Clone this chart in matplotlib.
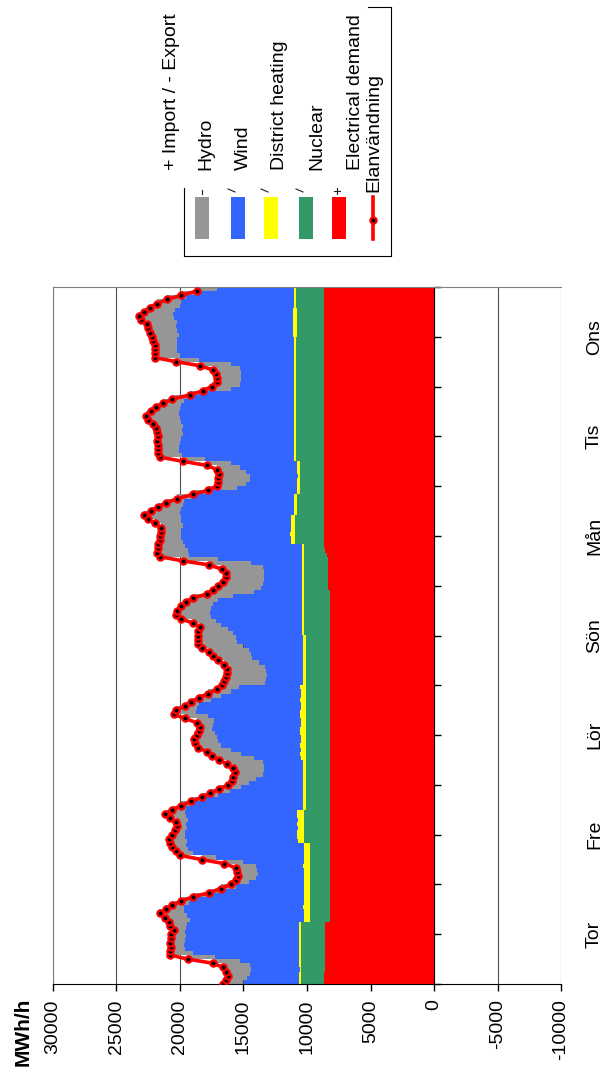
import numpy as np
import matplotlib
matplotlib.use("Agg")
from matplotlib import pyplot as plt
from matplotlib import transforms
from matplotlib.lines import Line2D
from matplotlib.patches import Rectangle

plt.rcParams['font.family'] = ['Liberation Sans', 'DejaVu Sans']
plt.rcParams['axes.unicode_minus'] = False

# one week, hourly values in MWh/h (Thursday 00:00 -> Wednesday 23:00)
days = ["Tor", "Fre", "Lör", "Sön", "Mån", "Tis", "Ons"]

nuclear = [
    8700, 8700, 8700, 8550, 8550, 8550, 8550, 8550, 8550, 8550, 8550, 8550, 8550, 8550, 8550, 8200, 8200, 8200, 8200, 8200, 8200, 8200, 8200, 8200,
    8200, 8200, 8200, 8200, 8200, 8200, 8200, 8200, 8200, 8200, 8200, 8200, 8200, 8200, 8200, 8200, 8200, 8200, 8150, 8150, 8150, 8150, 8150, 8150,
    8150, 8150, 8150, 8150, 8150, 8150, 8150, 8150, 8150, 8150, 8150, 8150, 8150, 8150, 8150, 8150, 8150, 8150, 8150, 8150, 8150, 8150, 8150, 8150,
    8150, 8150, 8150, 8150, 8150, 8150, 8150, 8150, 8150, 8150, 8150, 8150, 8200, 8200, 8200, 8200, 8200, 8200, 8200, 8200, 8200, 8200, 8200, 8330,
    8330, 8330, 8330, 8330, 8330, 8330, 8330, 8450, 8550, 8680, 8680, 8680, 8680, 8680, 8680, 8680, 8680, 8680, 8680, 8680, 8680, 8680, 8680, 8680,
    8680, 8680, 8680, 8680, 8680, 8680, 8680, 8680, 8680, 8680, 8680, 8680, 8680, 8680, 8680, 8680, 8680, 8680, 8680, 8680, 8680, 8680, 8680, 8680,
    8680, 8680, 8680, 8680, 8680, 8680, 8680, 8680, 8680, 8680, 8680, 8680, 8680, 8680, 8680, 8680, 8680, 8680, 8680, 8680, 8680, 8680, 8680, 8680,
]

chp = [
    1800, 1800, 1800, 1950, 1950, 1950, 1950, 1950, 1950, 1950, 1950, 1950, 1950, 1950, 1950, 1550, 1550, 1550, 1550, 1550, 1550, 1550, 1550, 1550,
    1550, 1550, 1550, 1550, 1550, 1550, 1550, 1550, 1550, 1550, 2050, 2050, 2050, 2050, 2050, 2050, 2050, 2050, 1950, 1950, 1950, 1950, 1950, 1950,
    1950, 1950, 1950, 1950, 1950, 1950, 1950, 1950, 1950, 1950, 1950, 1950, 1950, 1950, 1950, 1950, 1950, 1950, 1950, 1950, 1950, 1950, 1950, 1950,
    1950, 1950, 1950, 1950, 1950, 1950, 1950, 1950, 1950, 1950, 1950, 1950, 2050, 2050, 2050, 2050, 2050, 2050, 2050, 2050, 2050, 2050, 2050, 1920,
    1920, 1920, 1920, 1920, 1920, 1920, 1920, 1800, 1700, 1570, 2270, 2270, 2270, 2270, 2270, 2270, 2270, 2070, 2070, 2070, 2070, 2070, 1870, 1870,
    1870, 1870, 1870, 1870, 1870, 1870, 2170, 2170, 2170, 2170, 2170, 2170, 2170, 2170, 2170, 2170, 2170, 2170, 2170, 2170, 2170, 2170, 2170, 2170,
    2170, 2170, 2170, 2170, 2170, 2170, 2170, 2170, 2170, 2170, 2170, 2170, 2070, 2070, 2070, 2070, 2070, 2070, 2070, 2220, 2220, 2220, 2220, 2220,
]

wind = [
    100, 110, 100, 90, 100, 110, 120, 110, 100, 100, 110, 120, 130, 120, 150, 450, 480, 520, 550, 500, 480, 500, 520, 500,
    500, 520, 480, 500, 550, 520, 480, 500, 500, 520, 480, 500, 520, 450, 500, 480, 520, 500, 200, 220, 180, 200, 250, 200,
    200, 180, 200, 220, 200, 180, 350, 420, 380, 450, 400, 380, 420, 450, 400, 400, 420, 450, 380, 400, 420, 400, 380, 420,
    200, 220, 180, 200, 180, 200, 220, 200, 180, 200, 220, 200, 150, 160, 140, 150, 170, 150, 140, 150, 160, 150, 140, 150,
    150, 140, 160, 150, 150, 140, 160, 150, 150, 160, 300, 320, 350, 300, 280, 300, 320, 250, 260, 240, 250, 270, 200, 220,
    200, 220, 180, 200, 210, 200, 150, 160, 150, 140, 150, 160, 150, 170, 150, 140, 160, 150, 150, 160, 150, 140, 150, 160,
    150, 140, 160, 150, 150, 160, 150, 140, 160, 150, 150, 160, 350, 380, 350, 320, 350, 380, 340, 150, 160, 150, 140, 150,
]

hydro = [
    4400, 4100, 3900, 3800, 3900, 4700, 6600, 8400, 9000, 9100, 9000, 8900, 9000, 8900, 8800, 9050, 9250, 9450, 9350, 9050, 8450, 7550, 6350, 5350,
    4350, 3750, 3650, 3650, 3750, 4750, 6950, 8750, 9150, 9250, 8750, 8850, 8850, 8750, 8750, 8650, 8750, 8850, 9200, 8700, 7700, 6700, 5700, 4900,
    4300, 3700, 3200, 3100, 3100, 3200, 3700, 4700, 5500, 6200, 6500, 6600, 6700, 6900, 6900, 6800, 7300, 8200, 8200, 8000, 7000, 6300, 5500, 4800,
    3000, 2900, 2900, 2900, 3000, 3500, 4000, 4100, 4300, 4700, 5200, 5300, 5400, 5800, 6400, 6800, 7100, 7200, 7200, 7000, 6600, 5400, 3800, 3200,
    3100, 3000, 3000, 3000, 3100, 4000, 6600, 8900, 9000, 9200, 8550, 8650, 8650, 8650, 8550, 8650, 8650, 9000, 8900, 8800, 8700, 8000, 6750, 4750,
    4050, 3750, 3750, 4050, 4550, 5250, 7000, 8800, 9100, 9100, 9000, 8900, 8800, 8800, 8800, 8900, 9000, 9100, 9000, 8900, 8700, 8400, 7500, 5000,
    4300, 4200, 4200, 4200, 4300, 5000, 7500, 9000, 9200, 9200, 9200, 9200, 9000, 9100, 9200, 9200, 9400, 9400, 9300, 8950, 8850, 8450, 7450, 6050,
]

net_import = [
    1600, 1700, 1700, 2000, 2100, 2100, 2200, 1800, 1200, 1000, 1200, 1200, 1100, 1000, 1400, 1600, 1700, 1900, 1500, 1300, 1200, 1200, 1100, 1200,
    1400, 1600, 1500, 1600, 1600, 1500, 1100, 1000, 900, 1100, 1300, 1300, 1000, 900, 700, 900, 1300, 1600, 1100, 900, 1100, 1300, 1600, 1700,
    1600, 1900, 2300, 2300, 2400, 2800, 2900, 2500, 2100, 2100, 2000, 2000, 1700, 1300, 1200, 1400, 1800, 1800, 1600, 1100, 1600, 1700, 1800, 1800,
    3200, 3100, 3000, 2900, 2800, 2700, 2700, 3000, 3100, 3300, 3100, 3000, 2800, 2400, 1600, 1800, 2400, 2700, 2600, 2500, 2500, 3200, 3700, 3800,
    3500, 3200, 3000, 3000, 3200, 3300, 2800, 2300, 2400, 2100, 1900, 1700, 1700, 1600, 1700, 2100, 2600, 2800, 2400, 1900, 1400, 1200, 1500, 2300,
    2300, 2500, 2500, 2100, 1800, 1900, 1800, 1800, 1600, 1600, 1700, 1900, 1900, 2000, 2100, 2200, 2500, 2600, 2300, 2000, 1600, 1200, 700, 2200,
    2200, 1900, 1900, 2000, 2100, 2400, 1800, 2000, 1800, 1800, 1800, 1900, 2100, 2200, 2200, 2300, 2600, 2700, 2400, 2400, 1900, 1500, 1400, 1600,
]

demand = [
    16600, 16400, 16200, 16400, 16600, 17400, 19400, 20800, 20800, 20700, 20800, 20700, 20700, 20500, 20800, 20900, 21200, 21600, 21100, 20600, 19900, 19000, 17700, 16800,
    16000, 15600, 15400, 15500, 15600, 16500, 18300, 20000, 20300, 20600, 20800, 20900, 20600, 20400, 20200, 20300, 20800, 21200, 20600, 19900, 19100, 18300, 17600, 16900,
    16200, 15900, 15800, 15700, 15800, 16300, 16900, 17500, 17900, 18600, 18800, 18900, 18700, 18500, 18400, 18700, 19600, 20500, 20300, 19600, 19100, 18500, 17800, 17100,
    16700, 16500, 16400, 16300, 16300, 16500, 17000, 17400, 17700, 18300, 18600, 18600, 18600, 18600, 18400, 19000, 19900, 20300, 20200, 19900, 19500, 19000, 17900, 17400,
    17000, 16600, 16400, 16400, 16700, 17700, 19800, 21600, 21800, 21700, 21700, 21600, 21600, 21500, 21500, 22000, 22500, 22800, 22300, 21700, 21100, 20200, 19000, 17800,
    17100, 17000, 17000, 16900, 17100, 17900, 19800, 21600, 21700, 21700, 21700, 21800, 21700, 21800, 21900, 22100, 22500, 22700, 22300, 21900, 21300, 20600, 19200, 18200,
    17500, 17100, 17100, 17200, 17400, 18400, 20300, 22000, 22000, 22000, 22000, 22100, 22200, 22400, 22500, 22600, 23100, 23200, 22800, 22400, 21800, 21000, 19900, 18700,
]

legend_labels = ["+ Import / - Export", "Hydro", "Wind", "District heating",
                 "Nuclear", "Electrical demand", "Elanvändning"]
stack_colors = ["#FF0000", "#339966", "#FFFF00", "#3366FF", "#969696"]

W, H = 603, 1082
fig = plt.figure(figsize=(W / 100, H / 100), dpi=100)


def fx(x):
    return x / W


def fy(y):
    return 1 - y / H


# chart is drawn lying on its side: values run right-to-left, hours bottom-to-top
ax = fig.add_axes([fx(53), fy(984), fx(561) - fx(53), fy(287) - fy(984)])
ax.set_xlim(30000, -10000)
ax.set_ylim(0, 168)

hours = np.arange(len(demand))
left = np.zeros(len(hours))
for vals, col in zip([nuclear, chp, wind, hydro, net_import], stack_colors):
    vals = np.array(vals, dtype=float)
    ax.barh(hours, vals, left=left, height=1.0, align='edge', color=col,
            linewidth=0, antialiased=False, zorder=1)
    left += vals

ax.plot(demand, hours, color='#FF0000', lw=2.6, marker='o', ms=4.5, mfc='black',
        mec='#FF0000', mew=1.6, zorder=3)

ax.set_xticks(np.arange(-10000, 30001, 5000))
ax.grid(axis='x', color='#505050', lw=0.8)
ax.set_axisbelow(True)
ax.tick_params(axis='x', labelrotation=90, labelsize=14, length=5, width=1,
               direction='out', pad=6)

# time axis sits on the zero line, day names out at the far edge
ax.spines['right'].set_position(('data', 0))
ax.spines['right'].set_color('black')
ax.yaxis.tick_right()
ax.set_yticks(np.arange(0, 169, 12))
ax.tick_params(axis='y', labelright=False, length=5, width=1, direction='out')
for side in ['left', 'top']:
    ax.spines[side].set_color('#808080')
ax.spines['bottom'].set_color('black')

blend = transforms.blended_transform_factory(ax.transAxes, ax.transData)
for i, d in enumerate(days):
    ax.text(1.066, 12 + 24 * i, d, transform=blend, rotation=90,
            ha='center', va='center', fontsize=14)

fig.text(fx(23.5), fy(1066), "MWh/h", rotation=90, ha='center', va='bottom',
         fontsize=15, fontweight='bold')

# hand-built legend, turned the same way as the chart
text_x = [172, 206, 243, 280, 317, 355, 374]
text_y = [170, 170, 170, 170, 170, 170, 192]
for lab, x, y in zip(legend_labels, text_x, text_y):
    fig.text(fx(x), fy(y), lab, rotation=90, ha='center', va='bottom', fontsize=14)

box_x = [195, 231, 264, 299, 332]
for x, col in zip(box_x, stack_colors[::-1]):
    fig.patches.append(Rectangle((fx(x), fy(239)), fx(14), fy(197) - fy(239),
                                 transform=fig.transFigure, color=col, lw=0))
fig.lines.append(Line2D([fx(373), fx(373)], [fy(197), fy(239)], color='#FF0000',
                        lw=2.6, transform=fig.transFigure))
fig.lines.append(Line2D([fx(373)], [fy(220)], marker='o', ms=4.5, mfc='black',
                        mec='#FF0000', mew=1.6, transform=fig.transFigure))

# small key marks above the swatches
marks = [([202, 202], [190, 194]), ([228, 235], [189, 192]), ([261, 268], [189, 192]),
         ([296, 303], [189, 192]), ([337, 337], [188, 194]), ([334, 340], [191, 191])]
for xs, ys in marks:
    fig.lines.append(Line2D([fx(v) for v in xs], [fy(v) for v in ys],
                            color='#202020', lw=0.8, transform=fig.transFigure))

frame = [([184, 184], [188, 256]), ([184, 391], [256, 256]),
         ([391, 391], [7, 256]), ([368, 391], [7, 7])]
for xs, ys in frame:
    fig.lines.append(Line2D([fx(v) for v in xs], [fy(v) for v in ys],
                            color='black', lw=0.8, transform=fig.transFigure))

fig.savefig("out.png", dpi=100)
